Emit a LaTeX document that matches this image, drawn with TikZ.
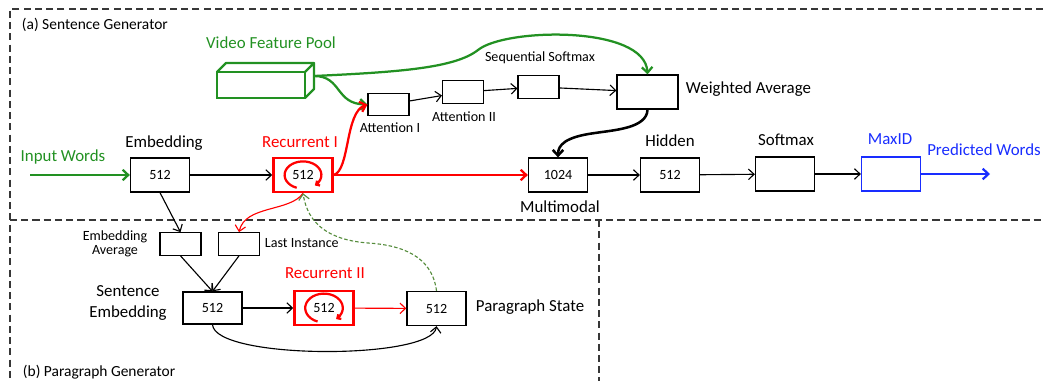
\documentclass[tikz,border=0pt]{standalone}
\usepackage{fontspec}
\setmainfont{Carlito}
\usetikzlibrary{arrows.meta}

\definecolor{poolgreen}{RGB}{34,145,34}
\definecolor{outblue}{RGB}{25,45,255}
\definecolor{hintgreen}{RGB}{85,140,60}
\definecolor{framegray}{RGB}{55,55,55}

\begin{document}
\begin{tikzpicture}[x=0.025cm, y=-0.025cm,
        >={Straight Barb[length=4pt,width=7.5pt]},
        box/.style={draw, line width=0.9pt, inner sep=0pt, minimum width=1.475cm, minimum height=0.85cm, font=\fontsize{10}{12}\selectfont},
        recbox/.style={box, draw=red, line width=1.8pt},
        smallbox/.style={draw, line width=0.9pt, inner sep=0pt, minimum width=1.02cm, minimum height=0.56cm},
        bigtext/.style={font=\fontsize{12}{15}\selectfont},
        smalltext/.style={font=\fontsize{10}{10}\selectfont},
        flow/.style={->, line width=0.8pt},
        frame/.style={framegray, line width=0.9pt, dash pattern=on 5pt off 3pt},
        loop/.style={red, line width=1.6pt, -{Straight Barb[length=2pt,width=4pt]}}]
    \useasboundingbox (0,0) rectangle (1043,381);

    % frames
    \draw[frame] (1043,9) -- (10,9) -- (10,381);
    \draw[frame] (10,220) -- (1043,220);
    \draw[frame] (599,220) -- (599,381);
    \node[anchor=west, font=\fontsize{11}{13}\selectfont] (titlea) at (17,25) {(a) Sentence Generator};
    \node[anchor=west, font=\fontsize{11}{13}\selectfont] (titleb) at (18,372) {(b) Paragraph Generator};

    % main row
    \node[box] (emb) at (160,175) {512};
    \node[recbox] (rec1) at (303,175) {512};
    \node[box] (mm) at (558,175) {1024};
    \node[box] (hid) at (670,175) {512};
    \node[box] (soft) at (785,174) {};
    \node[box, draw=outblue] (maxid) at (891,174) {};
    \coordinate (instart) at (30,175);
    \coordinate (predend) at (990,174);

    \node[bigtext, poolgreen] (inwords) at (63,157) {Input Words};
    \node[bigtext, outblue] (predwords) at (984,150) {Predicted Words};
    \node[bigtext] (emblabel) at (164,143) {Embedding};
    \node[bigtext, red] (rec1label) at (300,142) {Recurrent I};
    \node[bigtext] (mmlabel) at (560,207) {Multimodal};
    \node[bigtext] (hidlabel) at (670,141) {Hidden};
    \node[bigtext] (softlabel) at (786,140) {Softmax};
    \node[bigtext, outblue] (maxidlabel) at (890,139) {MaxID};

    % attention
    \node[smallbox] (att1) at (388.5,104.5) {};
    \node[smallbox] (att2) at (463,92) {};
    \node[smallbox] (seqsm) at (538.5,87) {};
    \node[box, minimum width=1.525cm] (wavg) at (647.5,92) {};
    \node[smalltext] (att1label) at (390,128) {Attention I};
    \node[smalltext] (att2label) at (464,117) {Attention II};
    \node[smalltext] (seqlabel) at (540,58) {Sequential Softmax};
    \node[bigtext, anchor=west] (wavglabel) at (681,89) {Weighted Average};

    % video feature pool
    \node[draw=poolgreen, line width=1.6pt, outer sep=0pt, inner sep=0pt, minimum width=2.2cm, minimum height=0.65cm] (pool) at (261,85) {};
    \draw[poolgreen, line width=1.6pt, line join=round] (pool.north west) -- ++(9,-9) -- ++(88,0) -- (pool.north east)
        (pool.north east) ++(9,-9) -- ++(0,26) -- (pool.south east);
    \node[bigtext, poolgreen] (poollabel) at (271,43) {Video Feature Pool};
    \coordinate (poolout) at (314,76);

    % paragraph generator
    \node[smallbox] (embavg) at (180.5,244) {};
    \node[smallbox] (lastinst) at (239,244) {};
    \node[box, minimum height=0.8cm] (sentemb) at (212.5,308) {512};
    \node[recbox] (rec2) at (324,308) {512};
    \node[box] (parstate) at (436.5,308.5) {512};
    \node[smalltext, align=center] (embavglabel) at (115,244) {Embedding\\Average};
    \node[smalltext, anchor=west] (lastlabel) at (260,243) {Last Instance};
    \node[bigtext, red] (rec2label) at (325,273) {Recurrent II};
    \node[bigtext, align=center] (sentlabel) at (128,303) {Sentence\\Embedding};
    \node[bigtext, anchor=west] (parlabel) at (471,307) {Paragraph State};

    % recurrent loops
    \draw[loop] (rec1.center) ++(250:0.46cm and 0.34cm) arc[start angle=250, end angle=-50, x radius=0.46cm, y radius=0.34cm];
    \draw[loop] (rec2.center) ++(250:0.47cm and 0.36cm) arc[start angle=250, end angle=-50, x radius=0.47cm, y radius=0.36cm];

    % connectors
    \draw[->, poolgreen, line width=1.6pt] (instart) -- (emb);
    \draw[flow] (emb) -- (rec1);
    \draw[->, red, line width=1.6pt] (rec1) -- (mm);
    \draw[flow] (mm) -- (hid);
    \draw[flow] (hid) -- (soft);
    \draw[flow] (soft) -- (maxid);
    \draw[->, outblue, line width=1.6pt] (maxid) -- (predend);

    \draw[flow] (att1) -- (att2);
    \draw[flow] (att2) -- (seqsm);
    \draw[flow] (seqsm) -- (wavg);
    \draw[->, poolgreen, line width=1.6pt] (poolout) .. controls (400,72) and (455,68) .. (478,50) .. controls (505,28) and (645,25) .. (wavg.north);
    \draw[->, poolgreen, line width=1.6pt] (poolout) .. controls (342,76) and (335,104) .. (att1.west);
    \draw[->, red, line width=1.6pt] (rec1.east) .. controls (350,170) and (345,112) .. (att1.west);
    \draw[->, line width=1.8pt] (wavg.south) .. controls (647,128) and (615,130) .. (595,133) .. controls (565,137) and (558,145) .. (mm.north);

    \draw[flow] (emb.south) -- (embavg.north);
    \draw[flow] (embavg.south) -- (sentemb.north);
    \draw[flow] (lastinst.south) -- (sentemb.north);
    \draw[flow] (sentemb) -- (rec2);
    \draw[->, red, line width=0.8pt] (rec2) -- (parstate);
    \draw[flow] (sentemb.south) .. controls (215,360) and (432,360) .. (parstate.south);
    \draw[->, red, line width=0.8pt] (rec1.south) .. controls (290,212) and (245,205) .. (lastinst.north);
    \draw[->, hintgreen, line width=0.8pt, dash pattern=on 2.5pt off 1.5pt] (parstate.north) .. controls (432,255) and (400,245) .. (368,243) .. controls (330,240) and (308,225) .. (rec1.south);
\end{tikzpicture}
\end{document}
